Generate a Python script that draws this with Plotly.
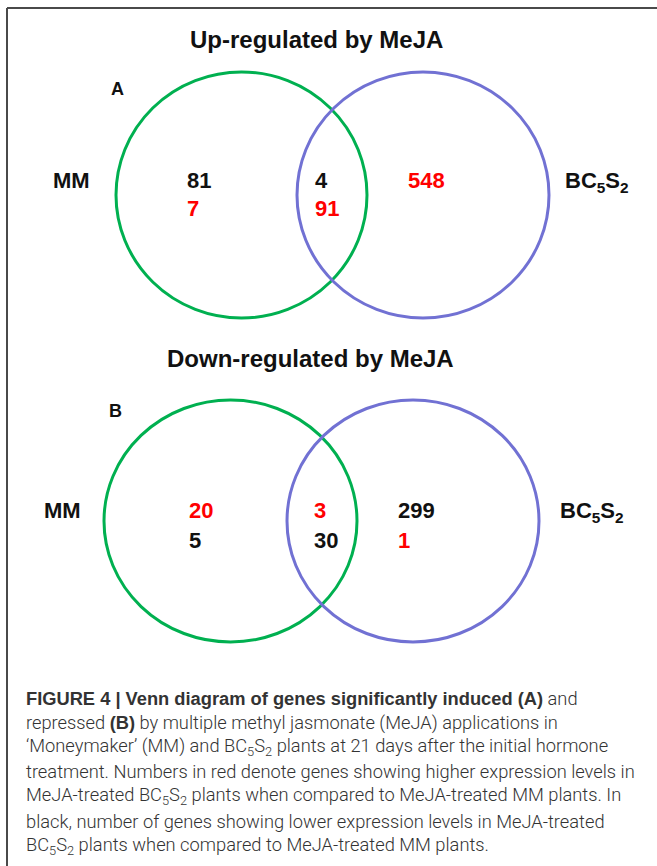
import plotly.graph_objects as go

# ---------------- data ----------------
panel_titles = ["Up-regulated by MeJA", "Down-regulated by MeJA"]
panel_letters = ["A", "B"]
set_labels = ["MM", "BC<sub>5</sub>S<sub>2</sub>"]
regions = ["MM only", "Shared", "BC5S2 only"]

# counts: red = higher expression in BC5S2, black = lower expression in BC5S2
up_red = [7, 91, 548]
up_black = [81, 4, None]
down_red = [20, 3, 1]
down_black = [5, 30, 299]

BOLD = "<span style='font-family:Liberation Sans;font-weight:bold'>{}</span>"
caption_lines = [
    BOLD.format("FIGURE 4 | Venn diagram of genes significantly induced (A)") + " and",
    "repressed " + BOLD.format("(B)") + " by multiple methyl jasmonate (MeJA) applications in",
    "‘Moneymaker’ (MM) and BC<sub>5</sub>S<sub>2</sub> plants at 21 days after the initial hormone",
    "treatment. Numbers in red denote genes showing higher expression levels in",
    "MeJA-treated BC<sub>5</sub>S<sub>2</sub> plants when compared to MeJA-treated MM plants. In",
    "black, number of genes showing lower expression levels in MeJA-treated",
    "BC<sub>5</sub>S<sub>2</sub> plants when compared to MeJA-treated MM plants.",
]

# ---------------- style / layout ----------------
W, H = 657, 866
RED = "#ff0000"
BLACK = "#111111"
GREEN = "#00b050"
BLUE = "#7171d3"
FONT = "Liberation Sans, Arial, sans-serif"

panels = [
    dict(title_xy=(316, 39), letter_xy=(117, 89),
         green=(116, 72, 367, 318), blue=(297, 72, 549, 318),
         mm_xy=(71, 180), bc_xy=(563, 182),
         xs=[185, 313, 406], rows=(180, 208),
         red=up_red, black=up_black,
         top=["black", "black", "red"]),
    dict(title_xy=(310, 358), letter_xy=(115, 411),
         green=(104, 400, 357, 642), blue=(287, 400, 539, 642),
         mm_xy=(62, 510), bc_xy=(558, 512),
         xs=[187, 312, 396], rows=(510, 540),
         red=down_red, black=down_black,
         top=["red", "red", "black"]),
]

fig = go.Figure()
fig.add_trace(go.Scatter(x=[0, W], y=[0, H], mode="markers",
                         marker=dict(opacity=0), hoverinfo="skip", showlegend=False))

shapes = []
annotations = []

def ann(x, y, text, size, color=BLACK, xanchor="center", family=FONT):
    annotations.append(dict(x=x, y=y, xref="x", yref="y", text=text, showarrow=False,
                            xanchor=xanchor, yanchor="middle",
                            font=dict(family=family, size=size, color=color)))

for i, p in enumerate(panels):
    ann(*p["title_xy"], f"<b>{panel_titles[i]}</b>", 24)
    ann(*p["letter_xy"], f"<b>{panel_letters[i]}</b>", 18)
    for key, col in (("green", GREEN), ("blue", BLUE)):
        x0, y0, x1, y1 = p[key]
        shapes.append(dict(type="circle", xref="x", yref="y", x0=x0, y0=y0, x1=x1, y1=y1,
                           line=dict(color=col, width=3), fillcolor="rgba(0,0,0,0)"))
    ann(*p["mm_xy"], f"<b>{set_labels[0]}</b>", 22)
    ann(*p["bc_xy"], f"<b>{set_labels[1]}</b>", 22, xanchor="left")
    for j in range(len(regions)):
        order = ["red", "black"] if p["top"][j] == "red" else ["black", "red"]
        for r, which in enumerate(order):
            val = p[which][j]
            if val is None:
                continue
            ann(p["xs"][j], p["rows"][r], f"<b>{val}</b>", 22,
                color=RED if which == "red" else BLACK, xanchor="left")

# caption
for k, line in enumerate(caption_lines):
    annotations.append(dict(x=24, y=698 + k * 24.6, xref="x", yref="y", text=line,
                            showarrow=False, xanchor="left", yanchor="middle",
                            font=dict(family="Roboto, sans-serif", size=18.3,
                                      color="#333333", weight=300)))

# border (top and left edge of the framed figure)
shapes.append(dict(type="line", xref="x", yref="y", x0=7, y0=8, x1=W, y1=8,
                   line=dict(color="#4a4a4a", width=2)))
shapes.append(dict(type="line", xref="x", yref="y", x0=7, y0=8, x1=7, y1=H,
                   line=dict(color="#4a4a4a", width=2)))

fig.update_layout(
    width=W, height=H, margin=dict(l=0, r=0, t=0, b=0),
    paper_bgcolor="white", plot_bgcolor="white",
    xaxis=dict(range=[0, W], visible=False, fixedrange=True),
    yaxis=dict(range=[H, 0], visible=False, fixedrange=True),
    shapes=shapes, annotations=annotations, showlegend=False,
)

fig.write_html("out.html", config={"displayModeBar": False},
               post_script="document.body.style.margin='0';document.body.style.overflow='hidden';")
